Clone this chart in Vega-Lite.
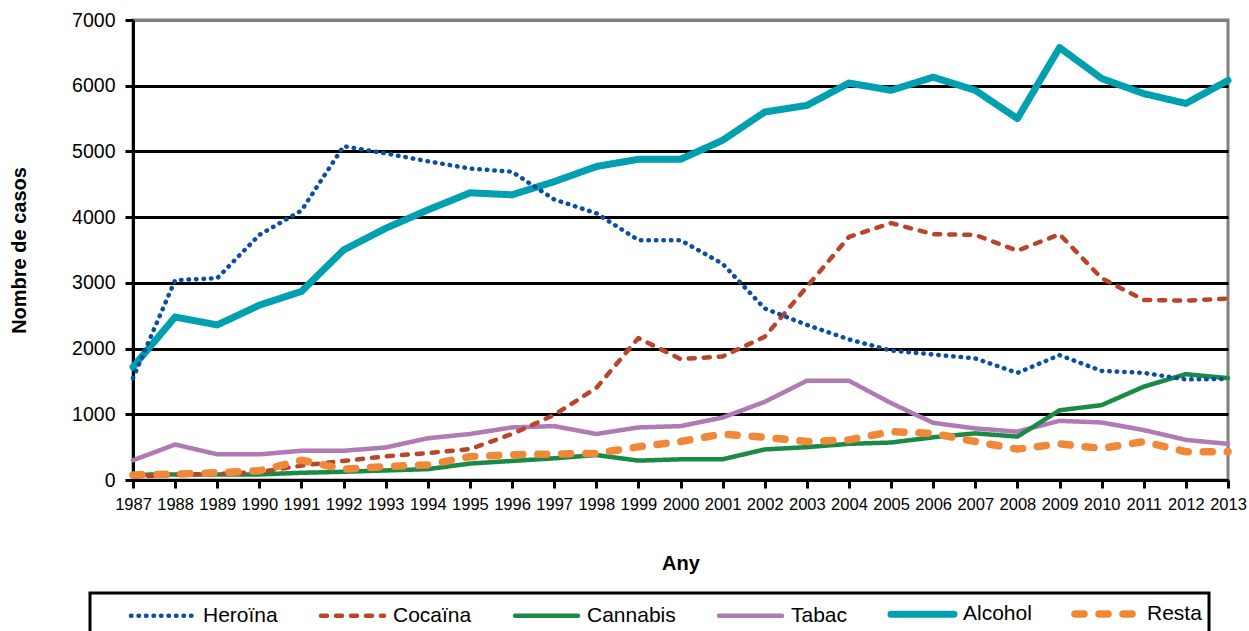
{
  "$schema": "https://vega.github.io/schema/vega-lite/v6.json",
  "width": 1095,
  "height": 460,
  "autosize": "none",
  "padding": {"left": 133, "top": 20, "right": 21, "bottom": 151},
  "background": "white",
  "config": {
    "font": "Liberation Sans",
    "view": {"stroke": "#808080", "strokeWidth": 3},
    "legend": {"strokeWidth": 3}
  },
  "data": {
    "values": [
      {"serie":"Alcohol","any":1987,"casos":1720},{"serie":"Alcohol","any":1988,"casos":2480},{"serie":"Alcohol","any":1989,"casos":2360},{"serie":"Alcohol","any":1990,"casos":2660},{"serie":"Alcohol","any":1991,"casos":2870},{"serie":"Alcohol","any":1992,"casos":3500},{"serie":"Alcohol","any":1993,"casos":3830},{"serie":"Alcohol","any":1994,"casos":4110},{"serie":"Alcohol","any":1995,"casos":4370},{"serie":"Alcohol","any":1996,"casos":4340},{"serie":"Alcohol","any":1997,"casos":4540},{"serie":"Alcohol","any":1998,"casos":4770},{"serie":"Alcohol","any":1999,"casos":4880},{"serie":"Alcohol","any":2000,"casos":4880},{"serie":"Alcohol","any":2001,"casos":5170},{"serie":"Alcohol","any":2002,"casos":5600},{"serie":"Alcohol","any":2003,"casos":5700},{"serie":"Alcohol","any":2004,"casos":6040},{"serie":"Alcohol","any":2005,"casos":5930},{"serie":"Alcohol","any":2006,"casos":6130},{"serie":"Alcohol","any":2007,"casos":5930},{"serie":"Alcohol","any":2008,"casos":5500},{"serie":"Alcohol","any":2009,"casos":6580},{"serie":"Alcohol","any":2010,"casos":6110},{"serie":"Alcohol","any":2011,"casos":5880},{"serie":"Alcohol","any":2012,"casos":5730},{"serie":"Alcohol","any":2013,"casos":6080},
      {"serie":"Tabac","any":1987,"casos":300},{"serie":"Tabac","any":1988,"casos":540},{"serie":"Tabac","any":1989,"casos":390},{"serie":"Tabac","any":1990,"casos":390},{"serie":"Tabac","any":1991,"casos":445},{"serie":"Tabac","any":1992,"casos":445},{"serie":"Tabac","any":1993,"casos":495},{"serie":"Tabac","any":1994,"casos":635},{"serie":"Tabac","any":1995,"casos":700},{"serie":"Tabac","any":1996,"casos":800},{"serie":"Tabac","any":1997,"casos":820},{"serie":"Tabac","any":1998,"casos":700},{"serie":"Tabac","any":1999,"casos":800},{"serie":"Tabac","any":2000,"casos":820},{"serie":"Tabac","any":2001,"casos":950},{"serie":"Tabac","any":2002,"casos":1190},{"serie":"Tabac","any":2003,"casos":1510},{"serie":"Tabac","any":2004,"casos":1510},{"serie":"Tabac","any":2005,"casos":1170},{"serie":"Tabac","any":2006,"casos":870},{"serie":"Tabac","any":2007,"casos":785},{"serie":"Tabac","any":2008,"casos":735},{"serie":"Tabac","any":2009,"casos":900},{"serie":"Tabac","any":2010,"casos":875},{"serie":"Tabac","any":2011,"casos":760},{"serie":"Tabac","any":2012,"casos":610},{"serie":"Tabac","any":2013,"casos":550},
      {"serie":"Cannabis","any":1987,"casos":80},{"serie":"Cannabis","any":1988,"casos":85},{"serie":"Cannabis","any":1989,"casos":85},{"serie":"Cannabis","any":1990,"casos":85},{"serie":"Cannabis","any":1991,"casos":110},{"serie":"Cannabis","any":1992,"casos":125},{"serie":"Cannabis","any":1993,"casos":145},{"serie":"Cannabis","any":1994,"casos":165},{"serie":"Cannabis","any":1995,"casos":250},{"serie":"Cannabis","any":1996,"casos":290},{"serie":"Cannabis","any":1997,"casos":330},{"serie":"Cannabis","any":1998,"casos":380},{"serie":"Cannabis","any":1999,"casos":295},{"serie":"Cannabis","any":2000,"casos":315},{"serie":"Cannabis","any":2001,"casos":315},{"serie":"Cannabis","any":2002,"casos":465},{"serie":"Cannabis","any":2003,"casos":500},{"serie":"Cannabis","any":2004,"casos":550},{"serie":"Cannabis","any":2005,"casos":570},{"serie":"Cannabis","any":2006,"casos":650},{"serie":"Cannabis","any":2007,"casos":710},{"serie":"Cannabis","any":2008,"casos":660},{"serie":"Cannabis","any":2009,"casos":1060},{"serie":"Cannabis","any":2010,"casos":1140},{"serie":"Cannabis","any":2011,"casos":1420},{"serie":"Cannabis","any":2012,"casos":1610},{"serie":"Cannabis","any":2013,"casos":1550},
      {"serie":"Cocaïna","any":1987,"casos":50},{"serie":"Cocaïna","any":1988,"casos":80},{"serie":"Cocaïna","any":1989,"casos":90},{"serie":"Cocaïna","any":1990,"casos":120},{"serie":"Cocaïna","any":1991,"casos":220},{"serie":"Cocaïna","any":1992,"casos":290},{"serie":"Cocaïna","any":1993,"casos":360},{"serie":"Cocaïna","any":1994,"casos":410},{"serie":"Cocaïna","any":1995,"casos":470},{"serie":"Cocaïna","any":1996,"casos":700},{"serie":"Cocaïna","any":1997,"casos":990},{"serie":"Cocaïna","any":1998,"casos":1400},{"serie":"Cocaïna","any":1999,"casos":2160},{"serie":"Cocaïna","any":2000,"casos":1840},{"serie":"Cocaïna","any":2001,"casos":1880},{"serie":"Cocaïna","any":2002,"casos":2180},{"serie":"Cocaïna","any":2003,"casos":2940},{"serie":"Cocaïna","any":2004,"casos":3700},{"serie":"Cocaïna","any":2005,"casos":3910},{"serie":"Cocaïna","any":2006,"casos":3740},{"serie":"Cocaïna","any":2007,"casos":3730},{"serie":"Cocaïna","any":2008,"casos":3490},{"serie":"Cocaïna","any":2009,"casos":3740},{"serie":"Cocaïna","any":2010,"casos":3070},{"serie":"Cocaïna","any":2011,"casos":2740},{"serie":"Cocaïna","any":2012,"casos":2730},{"serie":"Cocaïna","any":2013,"casos":2760},
      {"serie":"Heroïna","any":1987,"casos":1550},{"serie":"Heroïna","any":1988,"casos":3040},{"serie":"Heroïna","any":1989,"casos":3070},{"serie":"Heroïna","any":1990,"casos":3730},{"serie":"Heroïna","any":1991,"casos":4100},{"serie":"Heroïna","any":1992,"casos":5080},{"serie":"Heroïna","any":1993,"casos":4970},{"serie":"Heroïna","any":1994,"casos":4850},{"serie":"Heroïna","any":1995,"casos":4740},{"serie":"Heroïna","any":1996,"casos":4690},{"serie":"Heroïna","any":1997,"casos":4270},{"serie":"Heroïna","any":1998,"casos":4060},{"serie":"Heroïna","any":1999,"casos":3650},{"serie":"Heroïna","any":2000,"casos":3650},{"serie":"Heroïna","any":2001,"casos":3290},{"serie":"Heroïna","any":2002,"casos":2610},{"serie":"Heroïna","any":2003,"casos":2360},{"serie":"Heroïna","any":2004,"casos":2140},{"serie":"Heroïna","any":2005,"casos":1970},{"serie":"Heroïna","any":2006,"casos":1910},{"serie":"Heroïna","any":2007,"casos":1850},{"serie":"Heroïna","any":2008,"casos":1630},{"serie":"Heroïna","any":2009,"casos":1900},{"serie":"Heroïna","any":2010,"casos":1660},{"serie":"Heroïna","any":2011,"casos":1630},{"serie":"Heroïna","any":2012,"casos":1530},{"serie":"Heroïna","any":2013,"casos":1540},
      {"serie":"Resta","any":1987,"casos":75},{"serie":"Resta","any":1988,"casos":90},{"serie":"Resta","any":1989,"casos":110},{"serie":"Resta","any":1990,"casos":140},{"serie":"Resta","any":1991,"casos":300},{"serie":"Resta","any":1992,"casos":165},{"serie":"Resta","any":1993,"casos":205},{"serie":"Resta","any":1994,"casos":230},{"serie":"Resta","any":1995,"casos":355},{"serie":"Resta","any":1996,"casos":385},{"serie":"Resta","any":1997,"casos":395},{"serie":"Resta","any":1998,"casos":405},{"serie":"Resta","any":1999,"casos":505},{"serie":"Resta","any":2000,"casos":585},{"serie":"Resta","any":2001,"casos":700},{"serie":"Resta","any":2002,"casos":650},{"serie":"Resta","any":2003,"casos":585},{"serie":"Resta","any":2004,"casos":610},{"serie":"Resta","any":2005,"casos":735},{"serie":"Resta","any":2006,"casos":710},{"serie":"Resta","any":2007,"casos":585},{"serie":"Resta","any":2008,"casos":470},{"serie":"Resta","any":2009,"casos":550},{"serie":"Resta","any":2010,"casos":480},{"serie":"Resta","any":2011,"casos":585},{"serie":"Resta","any":2012,"casos":430},{"serie":"Resta","any":2013,"casos":430}
    ]
  },
  "mark": {"type": "line", "strokeCap": "round", "strokeJoin": "round"},
  "encoding": {
    "x": {
      "field": "any", "type": "ordinal",
      "scale": {"type": "point", "padding": 0},
      "axis": {
        "title": "Any", "titleFontSize": 20, "titleFontWeight": "bold", "titleColor": "black",
        "titleY": 83, "titleBaseline": "middle",
        "labelAngle": 0, "labelFontSize": 16.5, "labelColor": "black", "labelPadding": 8,
        "labelOverlap": false,
        "domainColor": "black", "domainWidth": 3,
        "tickColor": "black", "tickWidth": 3, "tickSize": 8,
        "grid": false
      }
    },
    "y": {
      "field": "casos", "type": "quantitative",
      "scale": {"domain": [0, 7000], "nice": false},
      "axis": {
        "title": "Nombre de casos", "titleFontSize": 20, "titleFontWeight": "bold", "titleColor": "black",
        "titleX": -114, "titleY": 230, "titleBaseline": "middle", "titleAlign": "center",
        "values": [0, 1000, 2000, 3000, 4000, 5000, 6000, 7000], "format": "d",
        "labelFontSize": 19.5, "labelColor": "black", "labelPadding": 10,
        "domainColor": "black", "domainWidth": 3,
        "tickColor": "black", "tickWidth": 3, "tickSize": 8,
        "grid": true, "gridWidth": 3,
        "gridColor": {"condition": {"test": "datum.value >= 7000", "value": "#808080"}, "value": "black"}
      }
    },
    "color": {
      "field": "serie", "type": "nominal",
      "scale": {
        "domain": ["Heroïna", "Cocaïna", "Cannabis", "Tabac", "Alcohol", "Resta"],
        "range": ["#0b4ea2", "#b8462a", "#1a8b46", "#b07ab5", "#00a0b0", "#f0883a"]
      },
      "legend": {
        "title": null, "orient": "none", "legendX": -43, "legendY": 573,
        "direction": "horizontal", "columns": 6, "columnPadding": 9,
        "padding": 7, "strokeColor": "black",
        "symbolType": "M-0.8,0H5.5", "symbolSize": 400, "symbolOffset": 28,
        "labelFontSize": 21, "labelColor": "black", "labelOffset": 50, "labelLimit": 300,
        "encode": {"symbols": {"update": {"strokeCap": {"value": "round"}}}}
      }
    },
    "strokeDash": {
      "field": "serie", "type": "nominal",
      "scale": {
        "domain": ["Heroïna", "Cocaïna", "Cannabis", "Tabac", "Alcohol", "Resta"],
        "range": [[0.5, 7], [6, 9], [1, 0], [1, 0], [1, 0], [9, 15]]
      }
    },
    "strokeWidth": {
      "field": "serie", "type": "nominal",
      "scale": {
        "type": "ordinal",
        "domain": ["Heroïna", "Cocaïna", "Cannabis", "Tabac", "Alcohol", "Resta"],
        "range": [4.5, 4.5, 4.5, 4.5, 7, 7.5]
      }
    }
  }
}
